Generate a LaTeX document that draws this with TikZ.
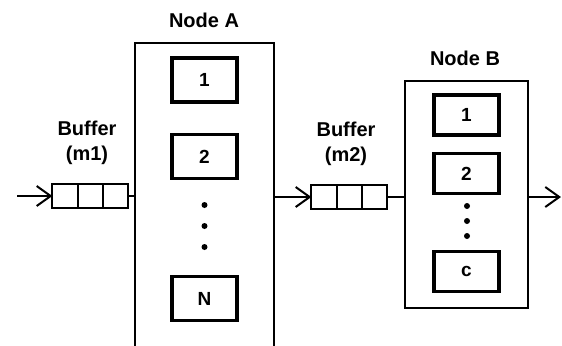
\documentclass[tikz,border=0pt]{standalone}
\usepackage{fontspec}
\setmainfont{Liberation Sans}
\usepackage{tikz}
\usetikzlibrary{arrows.meta,positioning}

\begin{document}
\begin{tikzpicture}[
    x=0.5pt, y=-0.5pt,
    outer/.style={draw, line width=1pt, minimum width=69.5pt, inner sep=0pt},
    proc/.style={draw, line width=1.6pt, minimum width=32.5pt, minimum height=22pt, inner sep=0pt, font=\fontsize{9.5}{11}\selectfont\bfseries},
    cell/.style={draw, line width=1pt, minimum width=12.6pt, minimum height=12pt, inner sep=0pt, outer sep=0pt},
    dot/.style={circle, fill, inner sep=0pt, minimum size=3pt},
    lbl/.style={align=center, font=\fontsize{10}{12.5}\selectfont\bfseries},
    arr/.style={-{Straight Barb[length=7pt, width=10pt]}, line width=1pt},
    wire/.style={line width=1pt}
]
\clip (0,0) rectangle (562,345);
\fill[white] (0,0) rectangle (562,345);

% node A (runs off the bottom)
\node[outer, minimum height=178.5pt] (nodeA) at (204.5, 221.5) {};
\node[lbl] (labA) at (204, 20) {Node A};
\node[proc] (a1) at (204.5, 80)    {1};
\node[proc] (a2) at (204.5, 156.5) {2};
\node[dot]  (ad1) at (204.5, 205) {};
\node[dot]  (ad2) at (204.5, 226) {};
\node[dot]  (ad3) at (204.5, 247) {};
\node[proc] (aN) at (204.5, 298.5) {N};

% node B
\node[outer, minimum width=61.5pt, minimum height=113.5pt] (nodeB) at (466.5, 194.5) {};
\node[lbl] (labB) at (465, 58) {Node B};
\node[proc, minimum height=20pt] (b1) at (466.5, 115)   {1};
\node[proc, minimum height=20pt] (b2) at (466.5, 173.5) {2};
\node[dot]  (bd1) at (467, 206) {};
\node[dot]  (bd2) at (467, 221) {};
\node[dot]  (bd3) at (467, 236) {};
\node[proc, minimum height=20pt] (bc) at (466.5, 271.5) {c};

% buffers
\node[cell] (m1a) at (65, 196) {};
\node[cell, right=0pt of m1a] (m1b) {};
\node[cell, right=0pt of m1b] (m1c) {};
\node[lbl] (labM1) at (87, 143) {Buffer\\(m1)};

\node[cell] (m2a) at (324, 197) {};
\node[cell, right=0pt of m2a] (m2b) {};
\node[cell, right=0pt of m2b] (m2c) {};
\node[lbl] (labM2) at (346, 144) {Buffer\\(m2)};

\coordinate (in)  at (17, 196);
\coordinate (out) at (561, 197);

\draw[arr]  (in) -- (m1a.west);
\draw[wire] (m1c.east) -- (m1c.east -| nodeA.west);
\draw[arr]  (m2a.west -| nodeA.east) -- (m2a.west);
\draw[wire] (m2c.east) -- (m2c.east -| nodeB.west);
\draw[arr]  (out -| nodeB.east) -- (out);
\end{tikzpicture}
\end{document}
